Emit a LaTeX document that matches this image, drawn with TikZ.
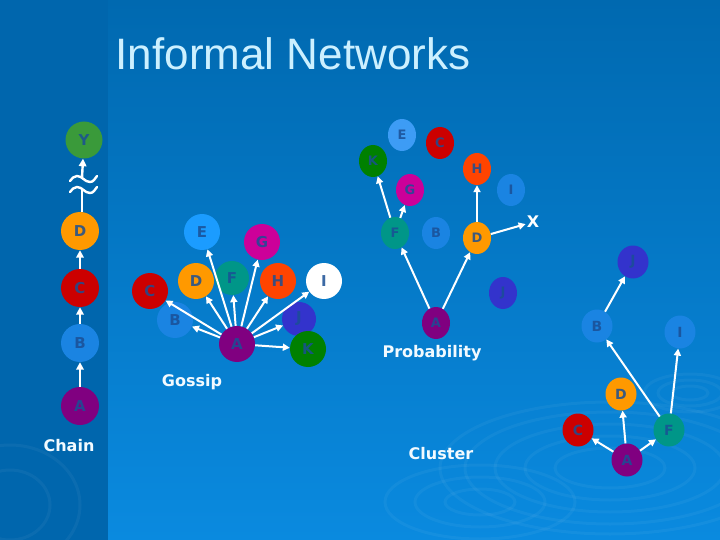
\documentclass[tikz,border=0pt]{standalone}
\usepackage{fontspec}
\setmainfont{Liberation Sans}
\setsansfont{DejaVu Sans}
\usetikzlibrary{arrows.meta,shapes.geometric}
\definecolor{bgtop}{HTML}{0069B0}
\definecolor{bgbot}{HTML}{0A8ADF}
\definecolor{bgleft}{HTML}{0066AD}
\definecolor{titlec}{HTML}{CCF0FF}
\definecolor{labelc}{HTML}{F2FAFF}
\definecolor{ntext}{HTML}{1A4F95}
\definecolor{cA}{HTML}{800080}
\definecolor{cB}{HTML}{1A84E2}
\definecolor{cC}{HTML}{CC0000}
\definecolor{cD}{HTML}{FF9900}
\definecolor{cE}{HTML}{1B9CFF}
\definecolor{cEp}{HTML}{3D9CF5}
\definecolor{cF}{HTML}{009688}
\definecolor{cG}{HTML}{CC0099}
\definecolor{cH}{HTML}{FF4400}
\definecolor{cJ}{HTML}{3333CC}
\definecolor{cK}{HTML}{008000}
\definecolor{cY}{HTML}{3A9A3A}
\tikzset{
  chainnode/.style={circle, minimum size=38pt, inner sep=0pt, font=\sffamily\bfseries\fontsize{15}{15}\selectfont, text=ntext, text opacity=0.85},
  gosnode/.style={circle, minimum size=36pt, inner sep=0pt, font=\sffamily\bfseries\fontsize{15}{15}\selectfont, text=ntext, text opacity=0.85},
  probnode/.style={ellipse, minimum width=28pt, minimum height=32pt, inner sep=0pt, font=\sffamily\bfseries\fontsize{13}{13}\selectfont, text=ntext, text opacity=0.85},
  clusnode/.style={ellipse, minimum width=31pt, minimum height=33pt, inner sep=0pt, font=\sffamily\bfseries\fontsize{14}{14}\selectfont, text=ntext, text opacity=0.85},
  grouplabel/.style={font=\sffamily\bfseries\fontsize{16}{16}\selectfont, text=labelc},
  arr/.style={draw=white, line width=2.4pt, -{Triangle[length=7.5pt,width=7.5pt]}},
  thinarr/.style={draw=white, line width=2pt, -{Triangle[length=7pt,width=7pt]}},
  ripple/.style={draw=white, draw opacity=0.045, line width=3pt}
}
\begin{document}
\begin{tikzpicture}[x=1pt,y=-1pt]
\useasboundingbox (0,0) rectangle (720,540);
% background
\fill[bgleft] (0,0) rectangle (108,540);
\shade[top color=bgtop, bottom color=bgbot] (108,0) rectangle (720,540);
% ripples
\foreach \rx/\ry in {55/20,85/32,115/44,145/56,170/66} \draw[ripple] (610,468) ellipse ({\rx} and {\ry});
\foreach \rx/\ry in {35/13,65/25,95/37} \draw[ripple] (480,502) ellipse ({\rx} and {\ry});
\foreach \rx/\ry in {18/7,32/13,46/19} \draw[ripple] (690,393) ellipse ({\rx} and {\ry});
\foreach \rx/\ry in {40/35,70/60} \draw[ripple] (10,505) ellipse ({\rx} and {\ry});

% title
\node[anchor=base, text=titlec, font=\fontsize{44}{50}\selectfont, inner sep=0pt] (title) at (293,70) {Informal Networks};

% ---------------- Chain ----------------
\node[chainnode, fill=cY, minimum size=37pt] (chY) at (84,140) {Y};
\node[chainnode, fill=cD] (chD) at (80,231) {D};
\node[chainnode, fill=cC] (chC) at (80,288) {C};
\node[chainnode, fill=cB] (chB) at (80,343) {B};
\node[chainnode, fill=cA] (chA) at (80,406) {A};
\node[grouplabel] (chainlbl) at (69,446) {Chain};
\draw[arr] (chA) -- (chB);
\draw[arr] (chB) -- (chC);
\draw[arr] (chC) -- (chD);
\coordinate (brk1) at (82,212);
\coordinate (brk2) at (82,190);
\coordinate (brk3) at (82,178);
\draw[white, line width=2.4pt] (brk1) -- (brk2);
\draw[white, line width=2.4pt, line cap=round] (70,192) to[out=50,in=180] (77,187) to[out=0,in=180] (90,193) to[out=0,in=230] (97,187);
\draw[white, line width=2.4pt, line cap=round] (70,181) to[out=50,in=180] (77,176) to[out=0,in=180] (90,182) to[out=0,in=230] (97,176);
\draw[arr] (brk3) -- (chY);

% ---------------- Gossip ----------------
\node[gosnode, fill=cF, minimum size=34pt] (gF) at (232,278) {F};
\node[gosnode, fill=cE] (gE) at (202,232) {E};
\node[gosnode, fill=cG] (gG) at (262,242) {G};
\node[gosnode, fill=cD] (gD) at (196,281) {D};
\node[gosnode, fill=cH] (gH) at (278,281) {H};
\node[gosnode, fill=cC] (gC) at (150,291) {C};
\node[gosnode, fill=white] (gI) at (324,281) {I};
\node[gosnode, fill=cB] (gB) at (175,320) {B};
\node[gosnode, fill=cJ, minimum size=34pt] (gJ) at (299,319) {J};
\node[gosnode, fill=cK] (gK) at (308,349) {K};
\node[gosnode, fill=cA] (gA) at (237,344) {A};
\node[grouplabel] (goslbl) at (192,382) {Gossip};
\foreach \t in {gB,gC,gD,gE,gF,gG,gH,gI,gJ,gK} \draw[thinarr] (gA) -- (\t);

% ---------------- Probability ----------------
\node[probnode, fill=cEp] (pE) at (402,135) {E};
\node[probnode, fill=cC] (pC) at (440,143) {C};
\node[probnode, fill=cK] (pK) at (373,161) {K};
\node[probnode, fill=cH] (pH) at (477,169) {H};
\node[probnode, fill=cG] (pG) at (410,190) {G};
\node[probnode, fill=cB] (pI) at (511,190) {I};
\node[probnode, fill=cF] (pF) at (395,233) {F};
\node[probnode, fill=cB] (pB) at (436,233) {B};
\node[probnode, fill=cD] (pD) at (477,238) {D};
\node[probnode, fill=cJ] (pJ) at (503,293) {J};
\node[probnode, fill=cA] (pA) at (436,323) {A};
\node[font=\sffamily\bfseries\fontsize{16}{16}\selectfont, text=white, inner sep=1pt] (pX) at (533,222) {X};
\node[grouplabel] (problbl) at (432,353) {Probability};
\draw[thinarr] (pA) -- (pF);
\draw[thinarr] (pA) -- (pD);
\draw[thinarr] (pF) -- (pK);
\draw[thinarr] (pF) -- (pG);
\draw[thinarr] (pD) -- (pH);
\draw[thinarr] (pD) -- (pX);

% ---------------- Cluster ----------------
\node[clusnode, fill=cJ] (cJn) at (633,262) {J};
\node[clusnode, fill=cB] (cBn) at (597,326) {B};
\node[clusnode, fill=cB] (cIn) at (680,332) {I};
\node[clusnode, fill=cD] (cDn) at (621,394) {D};
\node[clusnode, fill=cC] (cCn) at (578,430) {C};
\node[clusnode, fill=cF] (cFn) at (669,430) {F};
\node[clusnode, fill=cA] (cAn) at (627,460) {A};
\node[grouplabel] (cluslbl) at (441,454) {Cluster};
\draw[thinarr] (cAn) -- (cCn);
\draw[thinarr] (cAn) -- (cDn);
\draw[thinarr] (cAn) -- (cFn);
\draw[thinarr] (cFn) -- (cBn);
\draw[thinarr] (cFn) -- (cIn);
\draw[thinarr] (cBn) -- (cJn);
\end{tikzpicture}
\end{document}
